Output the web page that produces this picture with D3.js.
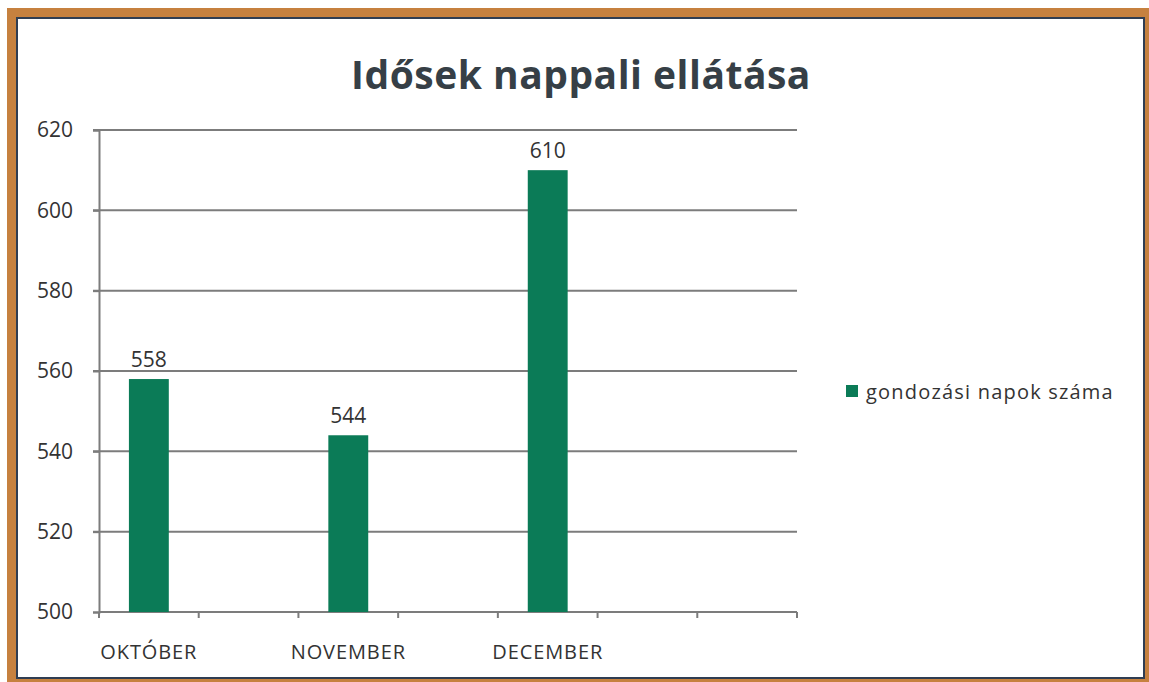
<!DOCTYPE html>
<html>
<head>
  <meta charset="utf-8">
  <title>Idősek nappali ellátása</title>
  <style>
    body { margin: 0; background: #fff; }
    svg text { font-family: "Open Sans", "Noto Sans", sans-serif; }
  </style>
</head>
<body>
  <svg width="1149" height="682"></svg>
  <script src="https://d3js.org/d3.v7.min.js"></script>
  <script>
  // データ
  var slots = ["OKTÓBER", "s1", "NOVEMBER", "s3", "DECEMBER", "s5", "s6"];
  var months = ["OKTÓBER", "NOVEMBER", "DECEMBER"];
  var values = [558, 544, 610];
  var yTicks = [500, 520, 540, 560, 580, 600, 620];
  var seriesName = "gondozási napok száma";
  var title = "Idősek nappali ellátása";

  var svg = d3.select("svg");
  var green = "#0b7b57";
  var textColor = "#333";
  var gridColor = "#7c7c7c";

  // 枠
  svg.append("rect").attr("x", 7).attr("y", 8).attr("width", 1142).attr("height", 674)
    .attr("fill", "#c6813f");
  svg.append("rect").attr("x", 17).attr("y", 18).attr("width", 1127).attr("height", 660)
    .attr("fill", "#fff").attr("stroke", "#2f3d52").attr("stroke-width", 2);

  var pLeft = 99, pRight = 797, pTop = 130, pBottom = 612;

  var x = d3.scaleBand().domain(slots).range([pLeft, pRight]).paddingInner(0.6).paddingOuter(0.3);
  var y = d3.scaleLinear().domain([500, 620]).range([pBottom, pTop]);

  // グリッド
  svg.append("g").selectAll("line").data(yTicks.slice(1)).enter().append("line")
    .attr("x1", pLeft - 6).attr("x2", pRight)
    .attr("y1", function(d) { return y(d); }).attr("y2", function(d) { return y(d); })
    .attr("stroke", gridColor).attr("stroke-width", 2);

  // Y軸
  var yAxis = svg.append("g").attr("transform", "translate(" + pLeft + ",0)")
    .call(d3.axisLeft(y).tickValues(yTicks).tickSize(6).tickPadding(20));
  yAxis.select(".domain").attr("stroke", gridColor).attr("stroke-width", 2);
  yAxis.selectAll(".tick line").attr("stroke", gridColor).attr("stroke-width", 2);
  yAxis.selectAll("text").attr("font-size", 21).attr("fill", textColor)
    .attr("font-family", "Open Sans, sans-serif");

  // X軸
  var step = (pRight - pLeft) / slots.length;
  var xTicks = d3.range(slots.length + 1).map(function(i) { return pLeft + i * step; });
  svg.append("line").attr("x1", pLeft).attr("x2", pRight).attr("y1", pBottom).attr("y2", pBottom)
    .attr("stroke", gridColor).attr("stroke-width", 2);
  svg.append("g").selectAll("line").data(xTicks).enter().append("line")
    .attr("x1", function(d) { return d; }).attr("x2", function(d) { return d; })
    .attr("y1", pBottom).attr("y2", pBottom + 6)
    .attr("stroke", gridColor).attr("stroke-width", 2);
  svg.append("g").selectAll("text").data(months).enter().append("text")
    .attr("x", function(d) { return x(d) + x.bandwidth() / 2; })
    .attr("y", 659).attr("text-anchor", "middle").attr("letter-spacing", 0.9)
    .attr("font-size", 20).attr("fill", textColor).text(function(d) { return d; });

  // 棒
  svg.append("g").selectAll("rect").data(values).enter().append("rect")
    .attr("x", function(d, i) { return x(months[i]); })
    .attr("y", function(d) { return y(d); })
    .attr("width", x.bandwidth())
    .attr("height", function(d) { return y(500) - y(d); })
    .attr("fill", green);

  // ラベル
  svg.append("g").selectAll("text").data(values).enter().append("text")
    .attr("x", function(d, i) { return x(months[i]) + x.bandwidth() / 2; })
    .attr("y", function(d) { return y(d) - 12; })
    .attr("text-anchor", "middle").attr("font-size", 21).attr("fill", textColor)
    .text(function(d) { return d; });

  // タイトル
  svg.append("text").attr("x", 581).attr("y", 89).attr("text-anchor", "middle")
    .attr("font-size", 39).attr("font-weight", "bold").attr("fill", "#363f46")
    .attr("letter-spacing", 0.5)
    .text(title);

  // 凡例
  svg.append("rect").attr("x", 846).attr("y", 385).attr("width", 12).attr("height", 12)
    .attr("fill", green);
  svg.append("text").attr("x", 866).attr("y", 399).attr("font-size", 20)
    .attr("letter-spacing", 1.2)
    .attr("fill", textColor).text(seriesName);
  </script>
</body>
</html>
